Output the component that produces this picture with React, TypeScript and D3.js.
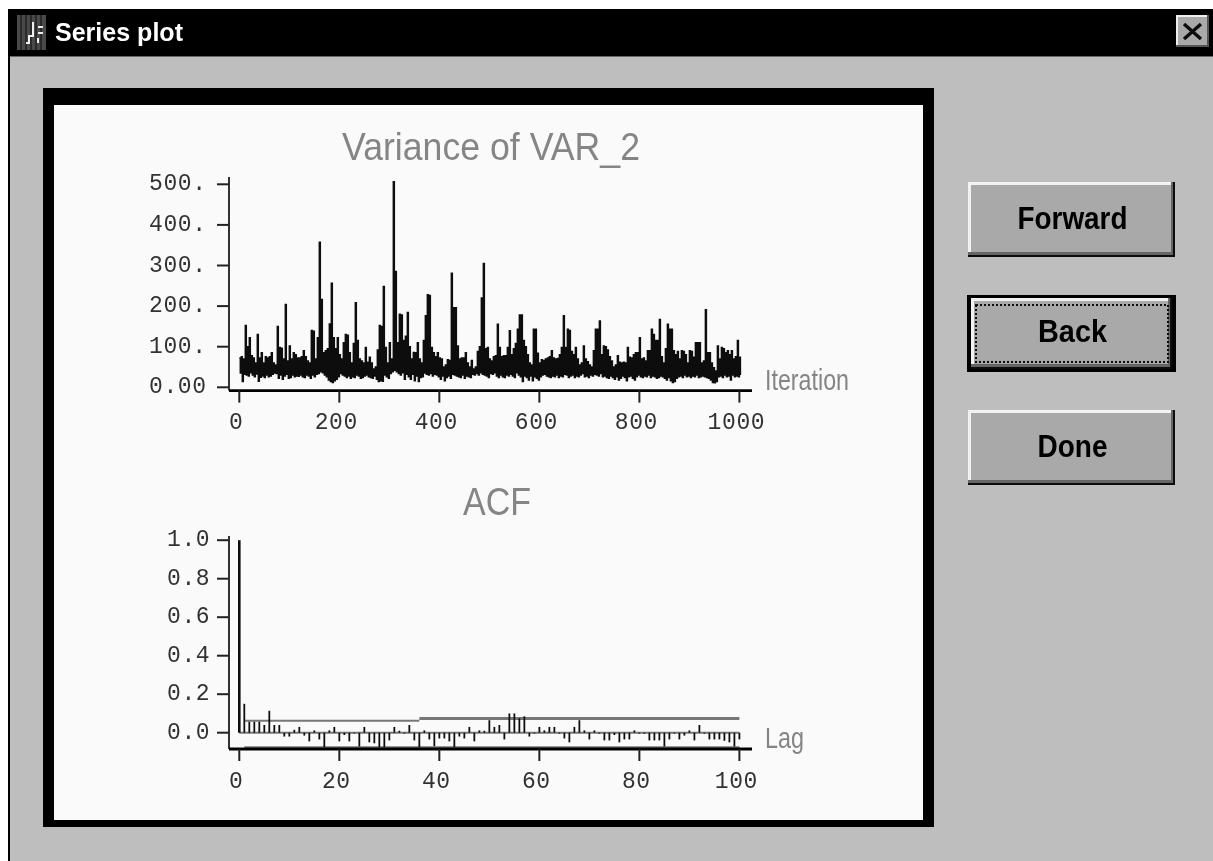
import React from "react";
import * as d3 from "d3";

const width = 1213;
const height = 861;

// variance trace, read per 4 iterations: top and bottom of the dense band
const iterStep = 4;
const varianceHigh = [
  72, 75, 70, 152, 100, 122, 78, 72, 60, 130, 72, 85, 60, 75, 72, 75, 85, 60, 55, 150, 98, 96, 70, 204, 65,
  102, 70, 85, 80, 72, 72, 75, 90, 75, 65, 60, 140, 138, 70, 122, 357, 216, 85, 90, 95, 156, 256, 122, 95, 122,
  80, 70, 110, 130, 128, 85, 60, 108, 208, 115, 70, 65, 60, 98, 62, 74, 60, 45, 50, 92, 152, 150, 248, 98, 60,
  110, 70, 506, 285, 110, 180, 178, 115, 126, 184, 100, 70, 86, 85, 110, 70, 60, 115, 176, 228, 226, 98, 85, 75, 85,
  72, 70, 50, 55, 68, 66, 281, 196, 196, 102, 70, 72, 72, 85, 60, 50, 66, 45, 50, 88, 100, 220, 305, 95, 98,
  70, 65, 75, 78, 155, 98, 75, 78, 78, 98, 139, 80, 95, 108, 143, 178, 178, 115, 100, 80, 60, 55, 143, 143, 84,
  60, 68, 66, 70, 72, 75, 90, 72, 70, 71, 80, 98, 176, 98, 143, 140, 88, 80, 98, 70, 55, 60, 102, 70, 63,
  55, 50, 90, 143, 143, 163, 80, 102, 100, 92, 75, 65, 50, 55, 78, 62, 60, 62, 60, 98, 74, 72, 80, 85, 85,
  122, 70, 72, 65, 90, 90, 143, 130, 115, 115, 167, 75, 60, 95, 155, 143, 143, 90, 80, 88, 70, 90, 88, 80, 60,
  90, 88, 74, 110, 110, 110, 60, 65, 191, 85, 85, 60, 48, 40, 102, 70, 98, 95, 85, 90, 80, 90, 70, 75, 115, 74,
];
const varianceLow = [
  35, 14, 32, 30, 28, 36, 30, 26, 33, 15, 25, 28, 24, 30, 26, 28, 32, 35, 34, 22, 30, 20, 28, 32, 22,
  24, 30, 26, 28, 27, 30, 26, 24, 30, 28, 22, 30, 26, 32, 34, 38, 36, 30, 26, 18, 14, 12, 16, 20, 26,
  34, 30, 28, 24, 28, 22, 26, 24, 30, 28, 22, 24, 28, 30, 26, 24, 22, 28, 20, 14, 16, 15, 30, 26, 22,
  34, 38, 42, 38, 34, 30, 36, 20, 32, 26, 20, 32, 16, 28, 14, 24, 26, 35, 32, 30, 34, 28, 32, 30, 26,
  20, 28, 16, 24, 28, 22, 32, 30, 28, 26, 24, 30, 22, 28, 26, 24, 32, 30, 34, 30, 36, 32, 30, 28, 24,
  34, 32, 36, 28, 24, 30, 26, 24, 30, 28, 32, 28, 24, 36, 30, 26, 14, 28, 24, 18, 28, 16, 26, 22, 18,
  26, 30, 32, 28, 26, 24, 28, 26, 30, 24, 28, 26, 32, 30, 24, 28, 30, 24, 28, 26, 30, 34, 26, 28, 24,
  30, 28, 32, 30, 28, 34, 26, 28, 24, 22, 28, 24, 20, 26, 18, 22, 28, 24, 16, 26, 28, 22, 18, 26, 30,
  26, 24, 28, 26, 30, 24, 28, 26, 22, 24, 28, 26, 22, 18, 24, 16, 12, 14, 22, 26, 28, 24, 30, 26, 28,
  24, 28, 26, 30, 24, 26, 28, 26, 24, 22, 18, 12, 11, 14, 26, 28, 24, 30, 26, 28, 18, 30, 26, 28, 26, 30,
];

// autocorrelation, lags 0 to 100
const acfValues = [
  1.0, 0.15, 0.057, 0.057, 0.057, 0.04, 0.114, 0.04, 0.04, -0.02, -0.02, 0.015, 0.03, -0.015, -0.045, 0.012, -0.035, -0.075, 0.012, 0.03,
  -0.045, -0.012, -0.045, -0.004, -0.072, 0.03, -0.05, -0.055, -0.075, -0.075, -0.04, 0.03, 0.01, -0.005, 0.04, -0.04, -0.075, 0.012, -0.035, -0.07,
  -0.03, -0.03, -0.045, -0.075, -0.02, -0.03, 0.03, -0.045, 0.012, 0.01, 0.065, 0.03, 0.04, -0.035, 0.1, 0.1, 0.075, 0.085, -0.02, -0.005,
  0.03, 0.012, 0.03, 0.03, -0.005, -0.03, -0.05, 0.03, 0.065, 0.012, -0.035, 0.012, -0.005, -0.04, -0.04, -0.012, -0.05, -0.035, -0.035, 0.012,
  -0.005, -0.006, -0.04, -0.04, -0.04, -0.072, -0.035, -0.005, -0.035, -0.015, 0.012, -0.04, 0.04, -0.005, -0.035, -0.035, -0.035, -0.042, -0.05, -0.072, -0.035,
];
const boundLags = [1, 36, 36, 100];
const boundUpper = [0.062, 0.062, 0.074, 0.074];
const boundLower = [-0.075, -0.075, -0.075, -0.075];

const varTicksY = [0, 100, 200, 300, 400, 500];
const varTickLabels = ["0.00", "100.", "200.", "300.", "400.", "500."];
const iterTicks = [0, 200, 400, 600, 800, 1000];
const acfTicksY = [0, 0.2, 0.4, 0.6, 0.8, 1];
const acfTickLabels = ["0.0", "0.2", "0.4", "0.6", "0.8", "1.0"];
const lagTicks = [0, 20, 40, 60, 80, 100];

const buttonLabels = ["Forward", "Back", "Done"];
const buttonTops = [182, 295, 410];
const buttonTextWidths = [110, 69, 70];

const xIter = d3.scaleLinear().domain([0, 1000]).range([239.3, 739.4]);
const yVar = d3.scaleLinear().domain([0, 500]).range([387.3, 184.3]);
const xLag = d3.scaleLinear().domain([0, 100]).range([239.3, 739.4]);
const yAcf = d3.scaleLinear().domain([0, 1]).range([732.7, 540.2]);

const tickFont = "'Liberation Mono', monospace";
const thinFont = "'Liberation Sans', Arial, sans-serif";
const inkColor = "#111";
const tickColor = "#333";
const thinColor = "#858585";

const varianceTrace = varianceHigh.flatMap((hi, i) => [
  [i * iterStep, hi],
  [i * iterStep + iterStep / 2, varianceLow[i]],
]);
const traceLine = d3
  .line<number[]>()
  .curve(d3.curveStepAfter)
  .x(d => xIter(d[0]))
  .y(d => yVar(d[1]));

const Axes = ({ xScale, yScale, xTicks, yTicks, yLabels, axisY, topY, labelX, xBase, xName, nameY, nameW, title, titleX, titleW, titleY }: any) => (
  <g>
    <text x={titleX} y={titleY} fontFamily={thinFont} fontSize={39} textLength={titleW} lengthAdjust="spacingAndGlyphs" fill={thinColor}>
      {title}
    </text>
    <line x1={229} x2={229} y1={topY} y2={axisY} stroke="#333" strokeWidth={2} />
    <line x1={229} x2={752} y1={axisY} y2={axisY} stroke="#000" strokeWidth={2.8} />
    {yTicks.map((t: number, i: number) => (
      <g key={t}>
        <line x1={217} x2={229} y1={yScale(t)} y2={yScale(t)} stroke="#222" strokeWidth={2} />
        <text x={labelX} y={yScale(t) + 6} fontFamily={tickFont} fontSize={23} letterSpacing={0.6} fill={tickColor}>
          {yLabels[i]}
        </text>
      </g>
    ))}
    {xTicks.map((t: number) => (
      <g key={t}>
        <line x1={xScale(t)} x2={xScale(t)} y1={axisY} y2={axisY + 12} stroke="#222" strokeWidth={2} />
        <text x={xScale(t) - 3} y={xBase} textAnchor="middle" fontFamily={tickFont} fontSize={23} letterSpacing={0.6} fill={tickColor}>
          {t}
        </text>
      </g>
    ))}
    <text x={765} y={nameY} fontFamily={thinFont} fontSize={29} textLength={nameW} lengthAdjust="spacingAndGlyphs" fill={thinColor}>
      {xName}
    </text>
  </g>
);

const Button = ({ label, top, textW, focused }: any) => {
  const x = 968;
  const w = 207;
  const h = focused ? 77 : 75;
  const inset = focused ? 3 : 0;
  return (
    <g>
      {focused && <rect x={x - 1} y={top} width={w + 2} height={h} fill="#000" />}
      <rect x={x + inset} y={top + inset} width={w - 2 * inset} height={h - 2 * inset} fill="#111" />
      <rect x={x + inset} y={top + inset} width={w - 2 * inset - 2} height={h - 2 * inset - 2} fill="#666" />
      <rect x={x + inset} y={top + inset} width={w - 2 * inset - 4} height={h - 2 * inset - 5} fill="#f2f2f2" />
      <rect x={x + inset + 3} y={top + inset + 3} width={w - 2 * inset - 7} height={h - 2 * inset - 8} fill="#a9a9a9" />
      {focused && <rect x={976} y={top + 10} width={192} height={57} fill="none" stroke="#111" strokeWidth={2} strokeDasharray="2 2" />}
      <text x={x + w / 2 + 1} y={top + 47} textAnchor="middle" fontFamily={thinFont} fontWeight="bold" fontSize={32} textLength={textW} lengthAdjust="spacingAndGlyphs" fill="#000">
        {label}
      </text>
    </g>
  );
};

const App = () => {
  return (
    <svg width={width} height={height} style={{ position: "absolute", left: 0, top: 0, display: "block", background: "#fff" }}>
      <defs>
        {/* the reference is a soft, slightly upscaled screenshot */}
        <filter id="soft" filterUnits="userSpaceOnUse" x={0} y={0} width={width} height={height}>
          <feGaussianBlur stdDeviation={0.45} />
        </filter>
      </defs>
      {/* window chrome */}
      <rect x={8} y={9} width={width - 8} height={height - 9} fill="#000" />
      <rect x={10} y={56} width={width - 10} height={height - 56} fill="#bebebe" />
      <line x1={10} x2={width} y1={56.5} y2={56.5} stroke="#666" />
      <g filter="url(#soft)">
        <g>
          <rect x={17} y={15} width={29} height={35} fill="#4a4a4a" />
          {[21, 26, 31, 36, 41].map(x => (
            <line key={x} x1={x} x2={x} y1={15} y2={50} stroke="#222" strokeWidth={1.5} />
          ))}
          <path d="M33 22v14h-4v7h-3M38 27h5M38 33h5M38 38v5" fill="none" stroke="#eee" strokeWidth={2} />
        </g>
        <text x={55} y={41} fontFamily={thinFont} fontWeight="bold" fontSize={26} textLength={128} lengthAdjust="spacingAndGlyphs" fill="#fff">
          Series plot
        </text>
        <g>
          <rect x={1176} y={15} width={33} height={32} fill="#555" />
          <rect x={1176} y={15} width={31} height={30} fill="#eee" />
          <rect x={1178} y={17} width={29} height={28} fill="#a9a9a9" />
          <path d="M1184 24l17 15M1201 24l-17 15" stroke="#111" strokeWidth={3.5} />
        </g>

        {/* plot frame */}
        <rect x={43} y={88} width={891} height={739} fill="#000" />
        <rect x={54} y={105} width={869} height={715} fill="#fafafa" />

        <path d={traceLine(varianceTrace) as string} fill="none" stroke={inkColor} strokeWidth={1.5} />
        <Axes
          xScale={xIter}
          yScale={yVar}
          xTicks={iterTicks}
          yTicks={varTicksY}
          yLabels={varTickLabels}
          axisY={390.6}
          topY={177}
          labelX={149}
          xBase={429}
          xName="Iteration"
          nameY={390}
          nameW={84}
          title="Variance of VAR_2"
          titleX={342}
          titleW={298}
          titleY={160}
        />

        <line x1={xLag(0)} x2={xLag(100)} y1={yAcf(0)} y2={yAcf(0)} stroke="#777" strokeWidth={2} />
        <line x1={xLag(boundLags[0])} x2={xLag(boundLags[1])} y1={yAcf(boundUpper[0])} y2={yAcf(boundUpper[1])} stroke="#777" strokeWidth={2} />
        <line x1={xLag(boundLags[2])} x2={xLag(boundLags[3])} y1={yAcf(boundUpper[2])} y2={yAcf(boundUpper[3])} stroke="#777" strokeWidth={3} />
        <line x1={xLag(boundLags[0])} x2={xLag(boundLags[3])} y1={yAcf(boundLower[0])} y2={yAcf(boundLower[3])} stroke="#777" strokeWidth={2} />
        {acfValues.map((v, i) => (
          <line key={i} x1={xLag(i)} x2={xLag(i)} y1={yAcf(0)} y2={yAcf(v)} stroke={inkColor} strokeWidth={i === 0 ? 2.6 : 1.8} />
        ))}
        <Axes
          xScale={xLag}
          yScale={yAcf}
          xTicks={lagTicks}
          yTicks={acfTicksY}
          yLabels={acfTickLabels}
          axisY={749}
          topY={536}
          labelX={167}
          xBase={788}
          xName="Lag"
          nameY={748}
          nameW={39}
          title="ACF"
          titleX={463}
          titleW={68}
          titleY={515}
        />

        {buttonLabels.map((label, i) => (
          <Button key={label} label={label} top={buttonTops[i]} textW={buttonTextWidths[i]} focused={label === "Back"} />
        ))}
      </g>
    </svg>
  );
};

export default App;
